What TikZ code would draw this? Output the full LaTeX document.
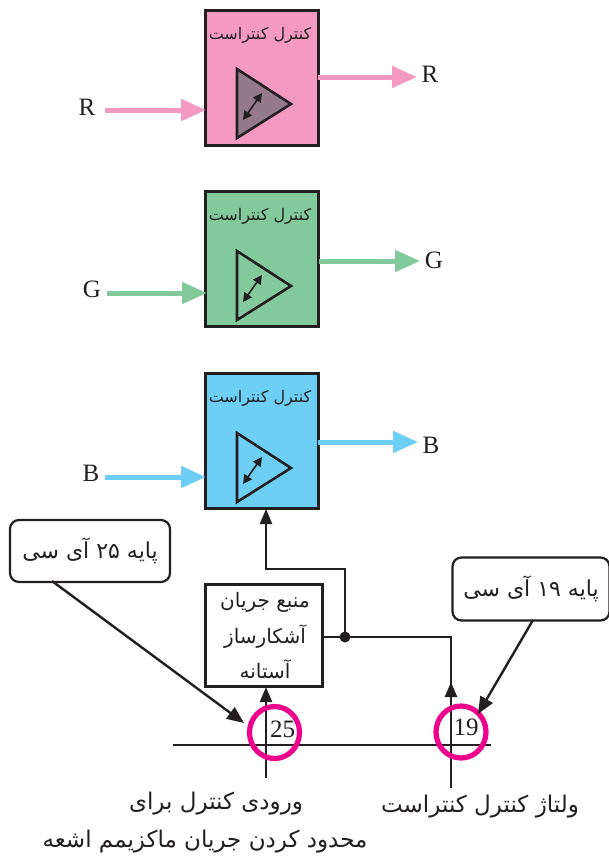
\documentclass[tikz,border=0pt]{standalone}
\usepackage{fontspec}
\setmainfont{Liberation Serif}
\newfontfamily\arabicfont[Script=Arabic]{DejaVu Sans}
\TeXXeTstate=1
\usetikzlibrary{arrows.meta,shapes.geometric}
\definecolor{inkc}{HTML}{231F20}
\definecolor{pinkc}{HTML}{F49AC1}
\definecolor{greenc}{HTML}{82CA9C}
\definecolor{bluec}{HTML}{6DCFF6}
\definecolor{magc}{HTML}{EC008C}
\definecolor{mauvec}{HTML}{957A8A}
\newcommand{\fa}[1]{{\arabicfont\beginR #1\endR}}
\tikzset{
  block/.style={draw=inkc,line width=2.4pt,minimum width=113pt,minimum height=135pt,inner sep=0pt,outer sep=0pt},
  blocktitle/.style={inner sep=0pt,font=\fontsize{16}{18}\selectfont,text=inkc},
  letter/.style={inner sep=0pt,font=\fontsize{25}{27}\selectfont,text=inkc},
  bigarrow/.style={line width=5pt,-{Triangle[length=25pt,width=21pt]},shorten >=-1pt},
  amp/.style={draw=inkc,line width=2.6pt,line join=miter},
  gainarrow/.style={draw=inkc,line width=1.6pt,{Triangle[length=9pt,width=9pt]}-{Triangle[length=9pt,width=9pt]}},
  wire/.style={draw=inkc,line width=2.4pt},
  wirearrow/.style={wire,-{Triangle[length=15pt,width=12pt]}},
  leader/.style={wire,-{Triangle[length=17pt,width=14pt]}},
  callout/.style={draw=inkc,line width=2.2pt,rounded corners=9pt,inner sep=0pt,outer sep=0pt,font=\fontsize{22}{25}\selectfont,text=inkc},
  pin/.style={draw=magc,line width=5.2pt,ellipse,minimum width=50pt,minimum height=52pt,inner sep=0pt},
  pinnum/.style={inner sep=0pt,font=\fontsize{25}{27}\selectfont,text=inkc},
  caption/.style={inner sep=0pt,font=\fontsize{23}{26}\selectfont,text=inkc},
  srctext/.style={inner sep=0pt,font=\fontsize{20}{22}\selectfont,text=inkc},
}
\begin{document}
\begin{tikzpicture}[x=1pt,y=-1pt]
\useasboundingbox[fill=white] (0,0) rectangle (609,860);
% blocks
\node[block,fill=pinkc]  (bR) at (262,78)  {};
\node[block,fill=greenc] (bG) at (262,259) {};
\node[block,fill=bluec]  (bB) at (262,441) {};
\node[blocktitle] (tR) at (260,35)  {\fa{کنترل کنتراست}};
\node[blocktitle] (tG) at (260,216) {\fa{کنترل کنتراست}};
\node[blocktitle] (tB) at (260,398) {\fa{کنترل کنتراست}};
% amplifiers
\draw[amp,fill=mauvec] (237,69) -- (291,104) -- (237,138) -- cycle;
\draw[amp] (237,251) -- (291,286) -- (237,320) -- cycle;
\draw[amp] (237,433) -- (291,468) -- (237,502) -- cycle;
\draw[gainarrow] (243,120) -- (262,93);
\draw[gainarrow] (243,302) -- (262,275);
\draw[gainarrow] (243,484) -- (262,457);
% letters
\node[letter] (inR) at (87,107)  {R};
\node[letter] (outR) at (430,74) {R};
\node[letter] (inG) at (92,289)  {G};
\node[letter] (outG) at (434,260) {G};
\node[letter] (inB) at (91,473)  {B};
\node[letter] (outB) at (431,445) {B};
\coordinate (iR) at (105,110); \coordinate (iRe) at (205,110);
\coordinate (oR) at (318,77);  \coordinate (oRe) at (416,77);
\coordinate (iG) at (107,293); \coordinate (iGe) at (206,293);
\coordinate (oG) at (319,261); \coordinate (oGe) at (419,261);
\coordinate (iB) at (105,477); \coordinate (iBe) at (205,477);
\coordinate (oB) at (318,442); \coordinate (oBe) at (417,442);
\draw[bigarrow,pinkc] (iR) -- (iRe);
\draw[bigarrow,pinkc] (oR) -- (oRe);
\draw[bigarrow,greenc] (iG) -- (iGe);
\draw[bigarrow,greenc] (oG) -- (oGe);
\draw[bigarrow,bluec] (iB) -- (iBe);
\draw[bigarrow,bluec] (oB) -- (oBe);
% source box
\node[draw=inkc,line width=2.4pt,minimum width=117pt,minimum height=102pt,inner sep=0pt,outer sep=0pt] (src) at (264,635.5) {};
\node[srctext] (s1) at (265,602) {\fa{منبع جریان}};
\node[srctext] (s2) at (265,637) {\fa{آشکارساز}};
\node[srctext] (s3) at (265,669) {\fa{آستانه}};
% wiring
\coordinate (hline1) at (173,745);
\coordinate (hline2) at (491,745);
\draw[wire] (hline1) -- (hline2);
\coordinate (j) at (345,637);
\coordinate (c1) at (266,778);
\coordinate (c2) at (451,788);
\coordinate (t2) at (451,682);
\coordinate (bBin) at (266,509);
\draw[wirearrow] (c1) -- (266,687);
\draw[wire] (c2) -- (t2);
\draw[wirearrow] (451,720) -- (t2);
\draw[wire] (src.east |- j) -- (451,637) -- (t2);
\draw[wirearrow] (j) -- (345,569) -- (266,569) -- (bBin);
\fill[inkc] (j) circle (5.5pt);
% pins
\node[pin] (p25) at (274.5,732.5) {};
\node[pin] (p19) at (461,732) {};
\node[pinnum] (n25) at (282.5,729) {25};
\node[pinnum] (n19) at (466,727) {19};
% callouts
\node[callout,minimum width=160pt,minimum height=62pt] (c25) at (90,551) {\fa{پایه \beginL ۲۵\endL{} آی سی}};
\node[callout,minimum width=157pt,minimum height=63pt] (c19) at (531,589) {\fa{پایه \beginL ۱۹\endL{} آی سی}};
\coordinate (l25) at (52,581);
\coordinate (l19) at (533,620);
\draw[leader] (l25) -- (244,723);
\draw[leader] (l19) -- (478,714);
% captions
\node[caption] (cap1) at (216,804) {\fa{ورودی کنترل برای}};
\node[caption] (cap2) at (205,842) {\fa{محدود کردن جریان ماکزیمم اشعه}};
\node[caption] (cap3) at (480,807) {\fa{ولتاژ کنترل کنتراست}};
\end{tikzpicture}
\end{document}
